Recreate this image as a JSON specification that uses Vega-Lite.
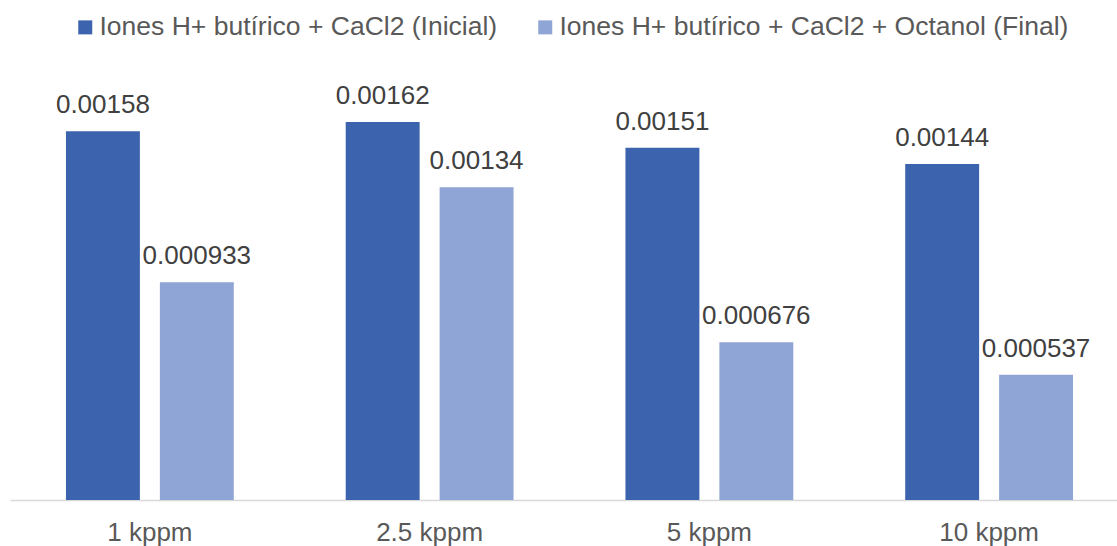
{
  "$schema": "https://vega.github.io/schema/vega-lite/v6.json",
  "width": 1119,
  "height": 420,
  "autosize": {"type": "none"},
  "padding": {"left": 10, "top": 80, "right": 0, "bottom": 46},
  "background": "white",
  "config": {"view": {"stroke": null}, "font": "Liberation Sans"},
  "data": {
    "values": [
      {"cat": "1 kppm", "serie": "Iones H+ butírico + CaCl2 (Inicial)", "value": 0.00158},
      {"cat": "1 kppm", "serie": "Iones H+ butírico + CaCl2 + Octanol (Final)", "value": 0.000933},
      {"cat": "2.5 kppm", "serie": "Iones H+ butírico + CaCl2 (Inicial)", "value": 0.00162},
      {"cat": "2.5 kppm", "serie": "Iones H+ butírico + CaCl2 + Octanol (Final)", "value": 0.00134},
      {"cat": "5 kppm", "serie": "Iones H+ butírico + CaCl2 (Inicial)", "value": 0.00151},
      {"cat": "5 kppm", "serie": "Iones H+ butírico + CaCl2 + Octanol (Final)", "value": 0.000676},
      {"cat": "10 kppm", "serie": "Iones H+ butírico + CaCl2 (Inicial)", "value": 0.00144},
      {"cat": "10 kppm", "serie": "Iones H+ butírico + CaCl2 + Octanol (Final)", "value": 0.000537}
    ]
  },
  "encoding": {
    "x": {
      "field": "cat", "type": "nominal", "sort": null,
      "scale": {"paddingInner": 0.4, "paddingOuter": 0.2},
      "axis": {
        "title": null, "labelAngle": 0, "ticks": false,
        "domainColor": "#D9D9D9", "domainWidth": 1.3,
        "labelFontSize": 26, "labelColor": "#595959", "labelPadding": 19,
        "labelFont": "Liberation Sans"
      }
    },
    "xOffset": {
      "field": "serie", "type": "nominal", "sort": null,
      "scale": {"paddingInner": 0.2128, "paddingOuter": 0}
    },
    "y": {
      "field": "value", "type": "quantitative",
      "scale": {"domain": [0, 0.0018]},
      "axis": null
    }
  },
  "layer": [
    {
      "mark": {"type": "bar"},
      "encoding": {
        "color": {
          "field": "serie", "type": "nominal", "sort": null,
          "scale": {"range": ["#3C64AE", "#8FA5D5"]},
          "legend": {
            "title": null, "orient": "none", "legendX": 62, "legendY": -66,
            "direction": "horizontal", "symbolType": "square", "symbolSize": 196,
            "symbolStrokeWidth": 0, "labelFontSize": 26.5, "labelColor": "#595959",
            "labelOffset": 1, "columnPadding": 34, "padding": 0, "labelLimit": 0,
            "labelFont": "Liberation Sans"
          }
        }
      }
    },
    {
      "mark": {"type": "text", "baseline": "alphabetic", "dy": -18, "fontSize": 26, "color": "#404040", "font": "Liberation Sans"},
      "encoding": {
        "text": {"field": "value", "type": "quantitative", "format": ".3r"}
      }
    }
  ]
}
